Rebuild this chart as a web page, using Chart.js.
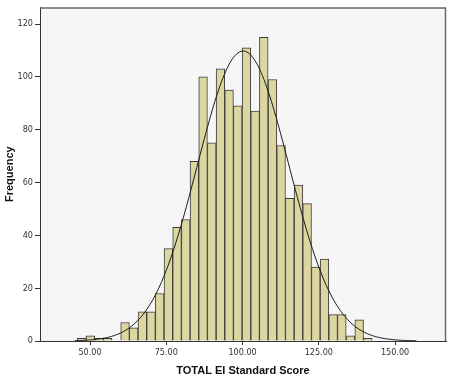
<!DOCTYPE html>
<html>
<head>
<meta charset="utf-8">
<script src="https://cdn.jsdelivr.net/npm/chart.js@4/dist/chart.umd.min.js"></script>
<style>
  html, body { margin: 0; padding: 0; background: #fff; }
  #wrap { width: 450px; height: 381px; position: relative; }
</style>
</head>
<body>
<div id="wrap"><canvas id="hCanv"></canvas></div>
<script>
// bin centres (TOTAL EI Standard Score) and counts
const binCenters = [47.26, 50.10, 52.95, 55.79, 58.63, 61.48, 64.32, 67.16, 70.00, 72.85,
  75.69, 78.53, 81.38, 84.22, 87.06, 89.91, 92.75, 95.59, 98.43, 101.28,
  104.12, 106.96, 109.81, 112.65, 115.49, 118.34, 121.18, 124.02, 126.86, 129.71,
  132.55, 135.39, 138.24, 141.08];
const counts = [1, 2, 1, 1, 0, 7, 5, 11, 11, 18,
  35, 43, 46, 68, 100, 75, 103, 95, 89, 111,
  87, 115, 99, 74, 54, 59, 52, 28, 31, 10,
  10, 2, 8, 1];
const yTicks = [0, 20, 40, 60, 80, 100, 120];
const xTicks = [50, 75, 100, 125, 150];

// fitted normal curve parameters (as shown by the curve)
const scoreMean = 100.2;
const scoreSd = 15.0;
const binWidth = 2.843;

const nTotal = counts.reduce((a, b) => a + b, 0);
const curve = [];
for (let x = 45; x <= 157; x += 0.5) {
  const z = (x - scoreMean) / scoreSd;
  curve.push({ x: x, y: nTotal * binWidth * Math.exp(-0.5 * z * z) / (scoreSd * Math.sqrt(2 * Math.PI)) });
}

const plotBox = {
  id: "plotBox",
  beforeDraw(chart) {
    const a = chart.chartArea, c = chart.ctx;
    c.save();
    c.fillStyle = "#f6f6f6";
    c.fillRect(a.left, a.top, a.right - a.left, a.bottom - a.top);
    c.restore();
  },
  afterDraw(chart) {
    const a = chart.chartArea, c = chart.ctx;
    c.save();
    c.strokeStyle = "#6a6a6a";
    c.lineWidth = 1.5;
    c.beginPath();
    c.moveTo(a.left, a.top + 0.5);
    c.lineTo(a.right - 0.5, a.top + 0.5);
    c.lineTo(a.right - 0.5, a.bottom);
    c.stroke();
    c.restore();
  }
};

const tickFont = { family: "'Liberation Sans Narrow', 'DejaVu Sans Condensed', Arial, sans-serif", size: 9 };
const titleFont = { family: "'Liberation Sans', Arial, sans-serif", size: 11, weight: "bold" };

new Chart(document.getElementById("hCanv"), {
  type: "bar",
  data: {
    datasets: [
      {
        type: "line",
        data: curve,
        borderColor: "#1a1a1a",
        borderWidth: 1,
        pointRadius: 0,
        tension: 0,
        fill: false
      },
      {
        type: "bar",
        data: binCenters.map((c, i) => ({ x: c, y: counts[i] })),
        backgroundColor: "#dcd6a0",
        borderColor: "#3c3c3c",
        borderWidth: 1,
        borderSkipped: "start",
        barPercentage: 1,
        categoryPercentage: 1
      }
    ]
  },
  options: {
    responsive: true,
    maintainAspectRatio: false,
    animation: false,
    layout: { padding: { top: 4, right: 4, left: 0, bottom: 0 } },
    plugins: { legend: { display: false }, tooltip: { enabled: false } },
    scales: {
      x: {
        type: "linear",
        min: 33.6,
        max: 166.7,
        offset: false,
        grid: { drawOnChartArea: false, offset: false, tickLength: 4, tickColor: "#333", tickWidth: 1 },
        border: { color: "#333", width: 1 },
        ticks: {
          stepSize: 25,
          includeBounds: false,
          padding: 2,
          color: "#333",
          font: tickFont,
          maxRotation: 0,
          callback: v => xTicks.includes(v) ? v.toFixed(2) : ""
        },
        title: { display: true, text: "TOTAL EI Standard Score", color: "#111", font: titleFont, padding: { top: 0, bottom: 3 } },
        afterFit: s => { s.height = 40; }
      },
      y: {
        min: 0,
        max: 126.3,
        grid: { drawOnChartArea: false, tickLength: 5, tickColor: "#333", tickWidth: 1 },
        border: { color: "#333", width: 1 },
        ticks: {
          stepSize: 20,
          includeBounds: false,
          padding: 2,
          color: "#333",
          font: tickFont,
          callback: v => yTicks.includes(v) ? String(v) : ""
        },
        title: { display: true, text: "Frequency", color: "#111", font: titleFont, padding: { top: 3, bottom: 0 } },
        afterFit: s => { s.width = 40; }
      }
    }
  },
  plugins: [plotBox]
});
</script>
</body>
</html>
